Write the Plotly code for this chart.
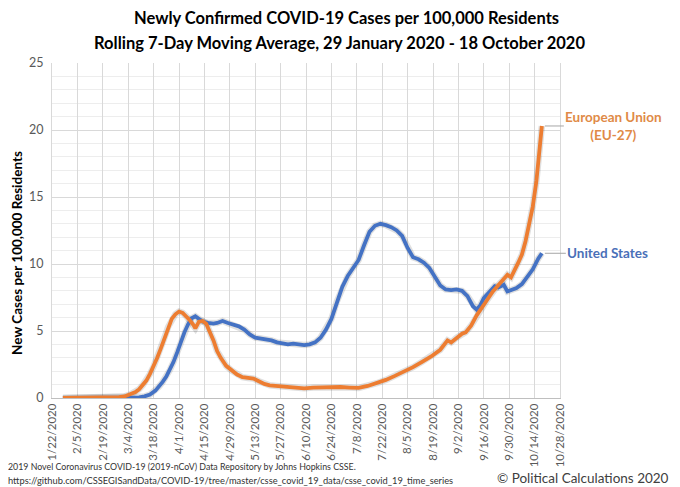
import plotly.graph_objects as go

title_lines = ["Newly Confirmed COVID-19 Cases per 100,000 Residents",
               "Rolling 7-Day Moving Average, 29 January 2020 - 18 October 2020"]
y_title = "New Cases per 100,000 Residents"

us_dates = ["2020-01-28", "2020-02-15", "2020-03-05", "2020-03-10", "2020-03-13", "2020-03-16",
            "2020-03-19", "2020-03-21", "2020-03-23", "2020-03-25", "2020-03-27", "2020-03-29",
            "2020-03-31", "2020-04-02", "2020-04-04", "2020-04-06", "2020-04-08", "2020-04-10",
            "2020-04-12", "2020-04-14", "2020-04-17", "2020-04-20", "2020-04-22", "2020-04-25",
            "2020-04-28", "2020-05-01", "2020-05-04", "2020-05-07", "2020-05-10", "2020-05-13",
            "2020-05-16", "2020-05-19", "2020-05-22", "2020-05-25", "2020-05-28", "2020-05-31",
            "2020-06-03", "2020-06-06", "2020-06-09", "2020-06-12", "2020-06-15", "2020-06-18",
            "2020-06-21", "2020-06-24", "2020-06-27", "2020-06-30", "2020-07-03", "2020-07-06",
            "2020-07-09", "2020-07-12", "2020-07-15", "2020-07-18", "2020-07-21", "2020-07-24",
            "2020-07-27", "2020-07-30", "2020-08-02", "2020-08-05", "2020-08-08", "2020-08-11",
            "2020-08-14", "2020-08-17", "2020-08-20", "2020-08-23", "2020-08-26", "2020-08-29",
            "2020-09-01", "2020-09-04", "2020-09-07", "2020-09-10", "2020-09-12", "2020-09-14",
            "2020-09-16", "2020-09-19", "2020-09-22", "2020-09-24", "2020-09-27", "2020-09-29",
            "2020-10-01", "2020-10-04", "2020-10-07", "2020-10-10", "2020-10-13", "2020-10-16",
            "2020-10-18"]
us_values = [0.0, 0.0, 0.02, 0.05, 0.12, 0.25,
             0.55, 0.85, 1.2, 1.6, 2.1, 2.7,
             3.4, 4.2, 4.9, 5.5, 5.95, 6.1,
             5.9, 5.7, 5.6, 5.55, 5.6, 5.75,
             5.6, 5.5, 5.35, 5.1, 4.75, 4.5,
             4.45, 4.4, 4.3, 4.15, 4.1, 4.0,
             4.05, 4.0, 3.95, 4.0, 4.15, 4.5,
             5.1, 5.9, 7.2, 8.3, 9.1, 9.7,
             10.3, 11.4, 12.4, 12.85, 13.0, 12.9,
             12.75, 12.5, 12.1, 11.2, 10.5, 10.35,
             10.1, 9.7, 9.0, 8.4, 8.1, 8.05,
             8.1, 8.0, 7.6, 6.85, 6.6, 6.9,
             7.45, 7.9, 8.35, 8.25, 8.45, 7.95,
             8.05, 8.2, 8.5, 9.0, 9.6, 10.4,
             10.8]

eu_dates = ["2020-01-28", "2020-02-15", "2020-02-24", "2020-02-28", "2020-03-02", "2020-03-05",
            "2020-03-08", "2020-03-10", "2020-03-12", "2020-03-14", "2020-03-16", "2020-03-18",
            "2020-03-20", "2020-03-22", "2020-03-24", "2020-03-26", "2020-03-28", "2020-03-30",
            "2020-04-01", "2020-04-03", "2020-04-05", "2020-04-07", "2020-04-09", "2020-04-10",
            "2020-04-12", "2020-04-14", "2020-04-16", "2020-04-18", "2020-04-20", "2020-04-22",
            "2020-04-24", "2020-04-27", "2020-04-30", "2020-05-03", "2020-05-06", "2020-05-09",
            "2020-05-12", "2020-05-15", "2020-05-18", "2020-05-21", "2020-05-25", "2020-05-30",
            "2020-06-04", "2020-06-09", "2020-06-14", "2020-06-19", "2020-06-24", "2020-06-29",
            "2020-07-04", "2020-07-09", "2020-07-14", "2020-07-19", "2020-07-24", "2020-07-29",
            "2020-08-03", "2020-08-08", "2020-08-13", "2020-08-18", "2020-08-23", "2020-08-27",
            "2020-08-29", "2020-09-01", "2020-09-04", "2020-09-06", "2020-09-09", "2020-09-12",
            "2020-09-15", "2020-09-18", "2020-09-21", "2020-09-24", "2020-09-27", "2020-09-29",
            "2020-10-01", "2020-10-03", "2020-10-05", "2020-10-07", "2020-10-09", "2020-10-11",
            "2020-10-13", "2020-10-15", "2020-10-17", "2020-10-18"]
eu_values = [0.0, 0.0, 0.02, 0.06, 0.12, 0.25,
             0.45, 0.65, 0.95, 1.3, 1.8, 2.35,
             3.0, 3.7, 4.5, 5.3, 5.9, 6.25,
             6.45, 6.35, 6.1, 5.8, 5.45, 5.2,
             5.7, 5.75, 5.55, 5.0, 4.3, 3.5,
             3.0, 2.4, 2.05, 1.75, 1.55, 1.5,
             1.45, 1.25, 1.05, 0.95, 0.9, 0.85,
             0.75, 0.72, 0.78, 0.8, 0.82, 0.82,
             0.78, 0.75, 0.9, 1.1, 1.35, 1.65,
             1.95, 2.3, 2.7, 3.1, 3.6, 4.3,
             4.15, 4.5, 4.8, 4.9, 5.4, 6.15,
             6.7, 7.35, 7.95, 8.45, 8.85, 9.2,
             9.0, 9.5, 10.1, 10.7, 11.7, 13.0,
             14.3, 16.2, 18.8, 20.3]

x_tick_dates = ["2020-01-22", "2020-02-05", "2020-02-19", "2020-03-04", "2020-03-18", "2020-04-01",
                "2020-04-15", "2020-04-29", "2020-05-13", "2020-05-27", "2020-06-10", "2020-06-24",
                "2020-07-08", "2020-07-22", "2020-08-05", "2020-08-19", "2020-09-02", "2020-09-16",
                "2020-09-30", "2020-10-14", "2020-10-28"]
x_tick_text = ["1/22/2020", "2/5/2020", "2/19/2020", "3/4/2020", "3/18/2020", "4/1/2020",
               "4/15/2020", "4/29/2020", "5/13/2020", "5/27/2020", "6/10/2020", "6/24/2020",
               "7/8/2020", "7/22/2020", "8/5/2020", "8/19/2020", "9/2/2020", "9/16/2020",
               "9/30/2020", "10/14/2020", "10/28/2020"]
y_ticks = [0, 5, 10, 15, 20, 25]

us_label = "United States"
eu_label = "European Union<br>(EU-27)"
source_lines = ["2019 Novel Coronavirus COVID-19 (2019-nCoV) Data Repository by Johns Hopkins CSSE.",
                "https://github.com/CSSEGISandData/COVID-19/tree/master/csse_covid_19_data/csse_covid_19_time_series"]
copyright_text = "© Political Calculations 2020"

BLUE = "#4472C4"
ORANGE = "#ED7D31"
FONT = "Lato"

fig = go.Figure()
# soft shadows
for d, v in ((us_dates, us_values), (eu_dates, eu_values)):
    fig.add_trace(go.Scatter(x=d, y=v, mode="lines", hoverinfo="skip", showlegend=False,
                             line=dict(color="rgba(0,0,0,0.12)", width=6.5)))
fig.add_trace(go.Scatter(x=us_dates, y=us_values, mode="lines", name="United States",
                         line=dict(color=BLUE, width=3.8), showlegend=False))
fig.add_trace(go.Scatter(x=eu_dates, y=eu_values, mode="lines", name="European Union (EU-27)",
                         line=dict(color=ORANGE, width=3.8), showlegend=False))

fig.add_annotation(x=us_dates[-1], y=us_values[-1], text="<b>" + us_label + "</b>",
                   showarrow=True, arrowhead=0, arrowwidth=1, arrowcolor="#A6A6A6",
                   ax=66, ay=0, standoff=3, xanchor="center",
                   font=dict(family=FONT, size=13.5, color="#4A70B8"))
fig.add_annotation(x=eu_dates[-1], y=eu_values[-1], text="<b>" + eu_label + "</b>",
                   showarrow=True, arrowhead=0, arrowwidth=1, arrowcolor="#A6A6A6",
                   ax=72, ay=0, standoff=3, xanchor="center",
                   font=dict(family=FONT, size=13.5, color="#E08A47"))

fig.add_annotation(xref="paper", yref="paper", x=0.58, y=1.134, xanchor="center", yanchor="middle",
                   text="<b>" + title_lines[0] + "</b>", showarrow=False,
                   font=dict(family=FONT, size=16.5, color="#000000"))
fig.add_annotation(xref="paper", yref="paper", x=0.566, y=1.060, xanchor="center", yanchor="middle",
                   text="<b>" + title_lines[1] + "</b>", showarrow=False,
                   font=dict(family=FONT, size=16.5, color="#000000"))
fig.add_annotation(xref="paper", yref="paper", x=-0.069, y=0.433, textangle=-90,
                   xanchor="center", yanchor="middle", showarrow=False,
                   text="<b>" + y_title + "</b>", font=dict(family=FONT, size=13.5, color="#000000"))
fig.add_annotation(xref="paper", yref="paper", x=-0.091, y=-0.203, xanchor="left", yanchor="middle",
                   showarrow=False, text=source_lines[0],
                   font=dict(family=FONT, size=8.8, color="#333333"))
fig.add_annotation(xref="paper", yref="paper", x=-0.091, y=-0.245, xanchor="left", yanchor="middle",
                   showarrow=False, text=source_lines[1],
                   font=dict(family=FONT, size=9.3, color="#333333"))
fig.add_annotation(xref="paper", yref="paper", x=1.219, y=-0.239, xanchor="right", yanchor="middle",
                   showarrow=False, text=copyright_text,
                   font=dict(family=FONT, size=13.5, color="#404040"))

# page body adds an 8px offset, so the figure is laid out 8px up/left of the target
fig.update_layout(
    width=680, height=487,
    margin=dict(l=44, r=128, t=55, b=97),
    paper_bgcolor="white", plot_bgcolor="white",
    font=dict(family=FONT, color="#595959"),
    xaxis=dict(type="date", range=["2020-01-22", "2020-10-28"], tickmode="array",
               tickvals=x_tick_dates, ticktext=x_tick_text, tickangle=-90,
               tickfont=dict(family=FONT, size=11.5, color="#595959"),
               showgrid=True, gridcolor="#D9D9D9", gridwidth=1,
               showline=True, linecolor="#BFBFBF", linewidth=1, mirror=False,
               ticks="", zeroline=False),
    yaxis=dict(range=[0, 25], tickmode="array", tickvals=y_ticks,
               tickfont=dict(family=FONT, size=12.5, color="#595959"),
               showgrid=True, gridcolor="#D9D9D9", gridwidth=1,
               minor=dict(dtick=1, showgrid=True, gridcolor="#EDEDED", gridwidth=1),
               showline=True, linecolor="#D9D9D9", mirror=True,
               ticks="", zeroline=False, ticklabelstandoff=5),
)

fig.write_html("out.html")
